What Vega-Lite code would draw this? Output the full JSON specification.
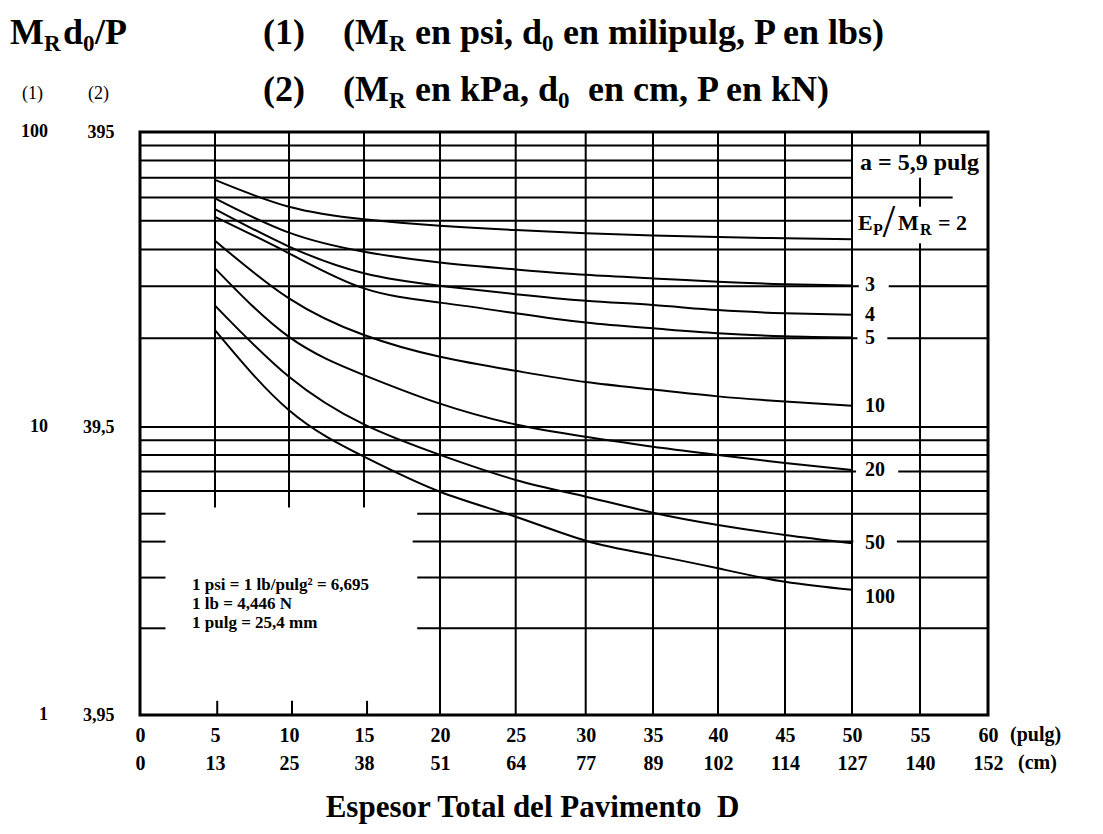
{
  "$schema": "https://vega.github.io/schema/vega-lite/v6.json",
  "width": 848,
  "height": 583,
  "autosize": {"type": "none"},
  "padding": {"left": 140, "top": 132, "right": 115, "bottom": 119},
  "background": "white",
  "config": {
    "view": {"stroke": "black", "strokeWidth": 3},
    "axis": {"labelFont": "Liberation Serif", "labelFontWeight": "bold", "labelColor": "black", "titleFont": "Liberation Serif", "titleFontWeight": "bold", "titleColor": "black"},
    "text": {"font": "Liberation Serif", "fontWeight": "bold", "color": "black", "align": "left"}
  },
  "datasets": {
    "curves": [
      {"r": 2, "D": 5, "v": 68.8}, {"r": 2, "D": 10, "v": 55.8}, {"r": 2, "D": 15, "v": 50.6}, {"r": 2, "D": 20, "v": 48.1}, {"r": 2, "D": 25, "v": 46.5}, {"r": 2, "D": 30, "v": 45.4}, {"r": 2, "D": 35, "v": 44.6}, {"r": 2, "D": 40, "v": 44.1}, {"r": 2, "D": 45, "v": 43.6}, {"r": 2, "D": 50, "v": 43.3},
      {"r": 3, "D": 5, "v": 59.6}, {"r": 3, "D": 10, "v": 45.6}, {"r": 3, "D": 15, "v": 39.3}, {"r": 3, "D": 20, "v": 36.1}, {"r": 3, "D": 25, "v": 34.2}, {"r": 3, "D": 30, "v": 32.8}, {"r": 3, "D": 35, "v": 31.9}, {"r": 3, "D": 40, "v": 31.1}, {"r": 3, "D": 45, "v": 30.5}, {"r": 3, "D": 50, "v": 30.2},
      {"r": 4, "D": 5, "v": 54.8}, {"r": 4, "D": 10, "v": 40.9}, {"r": 4, "D": 15, "v": 33.2}, {"r": 4, "D": 20, "v": 30.1}, {"r": 4, "D": 25, "v": 28.2}, {"r": 4, "D": 30, "v": 26.8}, {"r": 4, "D": 35, "v": 25.9}, {"r": 4, "D": 40, "v": 24.9}, {"r": 4, "D": 45, "v": 24.3}, {"r": 4, "D": 50, "v": 24.0},
      {"r": 5, "D": 5, "v": 51.6}, {"r": 5, "D": 10, "v": 38.8}, {"r": 5, "D": 15, "v": 29.5}, {"r": 5, "D": 20, "v": 26.4}, {"r": 5, "D": 25, "v": 24.3}, {"r": 5, "D": 30, "v": 22.6}, {"r": 5, "D": 35, "v": 21.6}, {"r": 5, "D": 40, "v": 20.8}, {"r": 5, "D": 45, "v": 20.3}, {"r": 5, "D": 50, "v": 20.1},
      {"r": 10, "D": 5, "v": 42.8}, {"r": 10, "D": 10, "v": 27.3}, {"r": 10, "D": 15, "v": 20.5}, {"r": 10, "D": 20, "v": 17.3}, {"r": 10, "D": 25, "v": 15.5}, {"r": 10, "D": 30, "v": 14.2}, {"r": 10, "D": 35, "v": 13.4}, {"r": 10, "D": 40, "v": 12.7}, {"r": 10, "D": 45, "v": 12.2}, {"r": 10, "D": 50, "v": 11.8},
      {"r": 20, "D": 5, "v": 34.5}, {"r": 20, "D": 10, "v": 20.2}, {"r": 20, "D": 15, "v": 15.0}, {"r": 20, "D": 20, "v": 12.0}, {"r": 20, "D": 25, "v": 10.2}, {"r": 20, "D": 30, "v": 9.25}, {"r": 20, "D": 35, "v": 8.54}, {"r": 20, "D": 40, "v": 8.0}, {"r": 20, "D": 45, "v": 7.5}, {"r": 20, "D": 50, "v": 7.09},
      {"r": 50, "D": 5, "v": 25.8}, {"r": 50, "D": 10, "v": 14.8}, {"r": 50, "D": 15, "v": 10.2}, {"r": 50, "D": 20, "v": 8.0}, {"r": 50, "D": 25, "v": 6.55}, {"r": 50, "D": 30, "v": 5.73}, {"r": 50, "D": 35, "v": 5.04}, {"r": 50, "D": 40, "v": 4.57}, {"r": 50, "D": 45, "v": 4.22}, {"r": 50, "D": 50, "v": 3.95},
      {"r": 100, "D": 5, "v": 21.3}, {"r": 100, "D": 10, "v": 11.4}, {"r": 100, "D": 15, "v": 7.89}, {"r": 100, "D": 20, "v": 5.96}, {"r": 100, "D": 25, "v": 4.88}, {"r": 100, "D": 30, "v": 4.03}, {"r": 100, "D": 35, "v": 3.59}, {"r": 100, "D": 40, "v": 3.23}, {"r": 100, "D": 45, "v": 2.9}, {"r": 100, "D": 50, "v": 2.72}
    ],
    "hgrid": [
      {"v": 90, "D": 0, "D2": 60}, {"v": 80, "D": 0, "D2": 50}, {"v": 70, "D": 0, "D2": 50}, {"v": 60, "D": 0, "D2": 57.4}, {"v": 50, "D": 0, "D2": 50}, {"v": 40, "D": 0, "D2": 60},
      {"v": 30, "D": 0, "D2": 50.5}, {"v": 30, "D": 52.7, "D2": 60},
      {"v": 20, "D": 0, "D2": 50.4}, {"v": 20, "D": 52.6, "D2": 60},
      {"v": 10, "D": 0, "D2": 60}, {"v": 9, "D": 0, "D2": 60}, {"v": 8, "D": 0, "D2": 60},
      {"v": 7, "D": 0, "D2": 50.3}, {"v": 7, "D": 53.4, "D2": 60},
      {"v": 6, "D": 0, "D2": 60},
      {"v": 5, "D": 18.5, "D2": 60}, {"v": 5, "D": 0, "D2": 1.7},
      {"v": 4, "D": 18.2, "D2": 50.1}, {"v": 4, "D": 53.3, "D2": 60}, {"v": 4, "D": 0, "D2": 1.7},
      {"v": 3, "D": 18.5, "D2": 60}, {"v": 3, "D": 0, "D2": 1.7},
      {"v": 2, "D": 18.5, "D2": 60}, {"v": 2, "D": 0, "D2": 1.7}
    ],
    "vgrid": [
      {"D": 5, "v": 5.25, "v2": 100}, {"D": 10, "v": 5.25, "v2": 100}, {"D": 15, "v": 5.25, "v2": 100},
      {"D": 20, "v": 1, "v2": 100}, {"D": 25, "v": 1, "v2": 100}, {"D": 30, "v": 1, "v2": 100}, {"D": 35, "v": 1, "v2": 100}, {"D": 40, "v": 1, "v2": 100}, {"D": 45, "v": 1, "v2": 100}, {"D": 50, "v": 1, "v2": 100},
      {"D": 55, "v": 90, "v2": 100}, {"D": 55, "v": 55.8, "v2": 70}, {"D": 55, "v": 1, "v2": 42},
      {"D": 5.15, "v": 1, "v2": 1.12}, {"D": 10.2, "v": 1, "v2": 1.12}, {"D": 15.2, "v": 1, "v2": 1.12}
    ],
    "ylab": [{"D": 0, "v": 100, "lab": "100"}, {"D": 0, "v": 10, "lab": "10"}, {"D": 0, "v": 1, "lab": "1"}],
    "cornerTL": [{"D": 0, "v": 100}],
    "cornerBR": [{"D": 60, "v": 1}],
    "note": [{"D": 3.47, "v": 2.72}],
    "keyA": [{"D": 50, "v": 80}],
    "keyE": [{"D": 50, "v": 50}]
  },
  "encoding": {
    "x": {
      "field": "D", "type": "quantitative",
      "scale": {"type": "linear", "domain": [0, 5, 10, 15, 20, 25, 30, 35, 40, 45, 50, 55, 60], "range": [0, 75, 149, 224, 300, 375.7, 445.7, 513, 578, 645, 712, 780, 848], "nice": false, "zero": false},
      "axis": {
        "values": [0, 5, 10, 15, 20, 25, 30, 35, 40, 45, 50, 55, 60],
        "labelExpr": "[format(datum.value, 'd'), ['0','13','25','38','51','64','77','89','102','114','127','140','152'][round(datum.value/5)]]",
        "ticks": false, "domain": false, "grid": false,
        "labelPadding": 10, "labelFontSize": 20, "labelLineHeight": 28,
        "labelOverlap": false, "labelFlush": false, "labelBound": false,
        "title": "Espesor Total del Pavimento\u00a0 D",
        "titleFontSize": 31, "titleX": 392, "titleY": 101, "titleBaseline": "alphabetic", "titleAlign": "center"
      }
    },
    "y": {
      "field": "v", "type": "quantitative",
      "scale": {"type": "log", "domain": [1, 10, 100], "range": [583, 295, 0], "nice": false},
      "axis": {
        "values": [1, 10, 100],
        "labelExpr": "datum.value == 100 ? '395' : datum.value == 10 ? '39,5' : '3,95'",
        "ticks": false, "domain": false, "grid": false,
        "labelPadding": 26, "labelFontSize": 18, "labelOverlap": false, "labelBound": false, "labelFlush": false,
        "title": null
      }
    }
  },
  "layer": [
    {"data": {"name": "hgrid"}, "mark": {"type": "rule", "strokeWidth": 2, "color": "black"}, "encoding": {"x2": {"field": "D2"}}},
    {"data": {"name": "vgrid"}, "mark": {"type": "rule", "strokeWidth": 2, "color": "black"}, "encoding": {"y2": {"field": "v2"}}},
    {"data": {"name": "curves"}, "mark": {"type": "line", "interpolate": "natural", "strokeWidth": 2, "color": "black"}, "encoding": {"detail": {"field": "r", "type": "nominal"}}},
    {"data": {"name": "curves"}, "transform": [{"filter": "datum.D == 50 && datum.r >= 3 && datum.r < 100"}], "mark": {"type": "text", "dx": 13, "baseline": "middle", "fontSize": 20}, "encoding": {"text": {"field": "r", "type": "nominal"}}},
    {"data": {"name": "curves"}, "transform": [{"filter": "datum.D == 50 && datum.r == 100"}], "mark": {"type": "text", "dx": 13, "dy": 7, "baseline": "middle", "fontSize": 20}, "encoding": {"text": {"field": "r", "type": "nominal"}}},
    {"data": {"name": "ylab"}, "mark": {"type": "text", "align": "right", "dx": -92, "baseline": "middle", "fontSize": 18}, "encoding": {"text": {"field": "lab", "type": "nominal"}}},
    {"data": {"name": "note"}, "mark": {"type": "text", "text": ["1 psi = 1 lb/pulg\u00b2 = 6,695", "1 lb = 4,446 N", "1 pulg = 25,4 mm"], "fontSize": 17, "lineHeight": 19, "baseline": "alphabetic"}},
    {"data": {"name": "cornerBR"}, "mark": {"type": "text", "text": "(pulg)", "fontSize": 20, "dx": 22, "dy": 10, "baseline": "top"}},
    {"data": {"name": "cornerBR"}, "mark": {"type": "text", "text": "(cm)", "fontSize": 20, "dx": 30, "dy": 38, "baseline": "top"}},
    {"data": {"name": "keyA"}, "mark": {"type": "text", "text": "a = 5,9 pulg", "fontSize": 24, "dx": 8, "dy": 2, "baseline": "middle"}},
    {"data": {"name": "keyE"}, "mark": {"type": "text", "text": "E", "fontSize": 22, "dx": 6, "dy": 9, "baseline": "alphabetic"}},
    {"data": {"name": "keyE"}, "mark": {"type": "text", "text": "P", "fontSize": 16, "dx": 21, "dy": 14, "baseline": "alphabetic"}},
    {"data": {"name": "keyE"}, "mark": {"type": "text", "text": "/", "fontSize": 46, "fontWeight": "normal", "align": "center", "dx": 37, "dy": 16, "baseline": "alphabetic"}},
    {"data": {"name": "keyE"}, "mark": {"type": "text", "text": "M", "fontSize": 22, "dx": 46, "dy": 9, "baseline": "alphabetic"}},
    {"data": {"name": "keyE"}, "mark": {"type": "text", "text": "R", "fontSize": 16, "dx": 68, "dy": 14, "baseline": "alphabetic"}},
    {"data": {"name": "keyE"}, "mark": {"type": "text", "text": "= 2", "fontSize": 22, "dx": 86, "dy": 9, "baseline": "alphabetic"}},
    {"data": {"name": "cornerTL"}, "mark": {"type": "text", "text": "M", "fontSize": 36, "dx": -130, "dy": -88, "baseline": "alphabetic"}},
    {"data": {"name": "cornerTL"}, "mark": {"type": "text", "text": "R", "fontSize": 23, "dx": -96, "dy": -81, "baseline": "alphabetic"}},
    {"data": {"name": "cornerTL"}, "mark": {"type": "text", "text": "d", "fontSize": 36, "dx": -77, "dy": -88, "baseline": "alphabetic"}},
    {"data": {"name": "cornerTL"}, "mark": {"type": "text", "text": "0", "fontSize": 23, "dx": -57, "dy": -81, "baseline": "alphabetic"}},
    {"data": {"name": "cornerTL"}, "mark": {"type": "text", "text": "/P", "fontSize": 36, "dx": -45, "dy": -88, "baseline": "alphabetic"}},
    {"data": {"name": "cornerTL"}, "mark": {"type": "text", "text": "(1)", "fontSize": 36, "dx": 123, "dy": -88, "baseline": "alphabetic"}},
    {"data": {"name": "cornerTL"}, "mark": {"type": "text", "text": "(M", "fontSize": 36, "dx": 203, "dy": -88, "baseline": "alphabetic"}},
    {"data": {"name": "cornerTL"}, "mark": {"type": "text", "text": "R", "fontSize": 23, "dx": 249, "dy": -81, "baseline": "alphabetic"}},
    {"data": {"name": "cornerTL"}, "mark": {"type": "text", "text": "en psi, d", "fontSize": 36, "dx": 275, "dy": -88, "baseline": "alphabetic"}},
    {"data": {"name": "cornerTL"}, "mark": {"type": "text", "text": "0", "fontSize": 23, "dx": 402, "dy": -81, "baseline": "alphabetic"}},
    {"data": {"name": "cornerTL"}, "mark": {"type": "text", "text": "en milipulg, P en lbs)", "fontSize": 36, "dx": 423, "dy": -88, "baseline": "alphabetic"}},
    {"data": {"name": "cornerTL"}, "mark": {"type": "text", "text": "(1)", "fontSize": 18, "fontWeight": "normal", "dx": -118, "dy": -33, "baseline": "alphabetic"}},
    {"data": {"name": "cornerTL"}, "mark": {"type": "text", "text": "(2)", "fontSize": 18, "fontWeight": "normal", "dx": -52, "dy": -33, "baseline": "alphabetic"}},
    {"data": {"name": "cornerTL"}, "mark": {"type": "text", "text": "(2)", "fontSize": 36, "dx": 123, "dy": -31, "baseline": "alphabetic"}},
    {"data": {"name": "cornerTL"}, "mark": {"type": "text", "text": "(M", "fontSize": 36, "dx": 203, "dy": -31, "baseline": "alphabetic"}},
    {"data": {"name": "cornerTL"}, "mark": {"type": "text", "text": "R", "fontSize": 23, "dx": 249, "dy": -24, "baseline": "alphabetic"}},
    {"data": {"name": "cornerTL"}, "mark": {"type": "text", "text": "en kPa, d", "fontSize": 36, "dx": 275, "dy": -31, "baseline": "alphabetic"}},
    {"data": {"name": "cornerTL"}, "mark": {"type": "text", "text": "0", "fontSize": 23, "dx": 418, "dy": -24, "baseline": "alphabetic"}},
    {"data": {"name": "cornerTL"}, "mark": {"type": "text", "text": "en cm, P en kN)", "fontSize": 36, "dx": 448, "dy": -31, "baseline": "alphabetic"}}
  ]
}
